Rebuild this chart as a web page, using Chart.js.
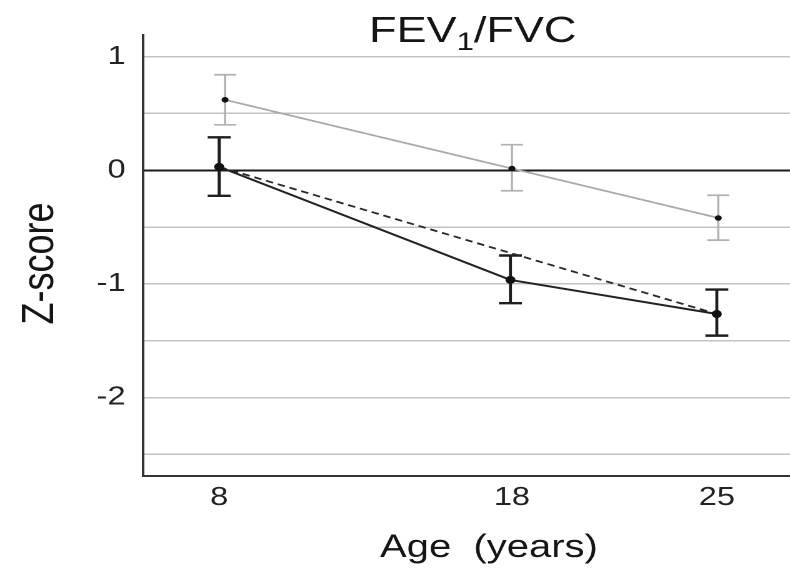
<!DOCTYPE html>
<html>
<head>
<meta charset="utf-8">
<script src="https://cdn.jsdelivr.net/npm/chart.js@4"></script>
<style>
  html, body { margin: 0; padding: 0; background: #fff; overflow: hidden; }
  #wrap { width: 632px; height: 569px; transform: scaleX(1.25); transform-origin: 0 0; }
</style>
</head>
<body>
<div id="wrap"><canvas id="c" width="632" height="569"></canvas></div>
<script>
// ---- data ----
const ageTicks = [8, 18, 25];

const grayX = [8.2, 18, 25.05];
const grayY = [0.62, 0.015, -0.42];
const grayUpper = [0.84, 0.225, -0.22];
const grayLower = [0.40, -0.18, -0.615];

const blackX = [8, 17.95, 25];
const blackY = [0.03, -0.965, -1.265];
const blackUpper = [0.29, -0.75, -1.05];
const blackLower = [-0.225, -1.17, -1.455];

const grayTrendX = [8.2, 25.05];
const grayTrendY = [0.62, -0.42];
const blackTrendX = [8, 25];
const blackTrendY = [0.03, -1.265];

const titleMain = 'FEV';
const titleSub = '1';
const titleRest = '/FVC';
const xTitle = 'Age  (years)';
const yTitle = 'Z-score';

const FONT = '"Liberation Sans", Arial, Helvetica, sans-serif';

const pts = (xs, ys) => xs.map((x, i) => ({ x: x, y: ys[i] }));

const errorBars = {
  id: 'errorBars',
  beforeDatasetsDraw(chart) {
    const { ctx, scales: { x, y } } = chart;
    chart.data.datasets.forEach((ds) => {
      if (!ds.errUp) return;
      ctx.save();
      ctx.strokeStyle = ds.errColor;
      ctx.lineWidth = ds.errWidth;
      ds.data.forEach((p, i) => {
        const px = x.getPixelForValue(p.x);
        const pu = y.getPixelForValue(ds.errUp[i]);
        const pl = y.getPixelForValue(ds.errLow[i]);
        ctx.beginPath();
        ctx.moveTo(px, pu); ctx.lineTo(px, pl);
        ctx.moveTo(px - ds.capHalf, pu); ctx.lineTo(px + ds.capHalf, pu);
        ctx.moveTo(px - ds.capHalf, pl); ctx.lineTo(px + ds.capHalf, pl);
        ctx.stroke();
      });
      ctx.restore();
    });
  }
};

const texts = {
  id: 'texts',
  afterDraw(chart) {
    const { ctx, chartArea } = chart;
    ctx.save();
    ctx.fillStyle = '#151515';
    const big = '36px ' + FONT, small = '25px ' + FONT;
    ctx.font = big;
    const w1 = ctx.measureText(titleMain).width;
    const w3 = ctx.measureText(titleRest).width;
    ctx.font = small;
    const w2 = ctx.measureText(titleSub).width;
    const cx = (chartArea.left + chartArea.right) / 2 + 5;
    let sx = cx - (w1 + w2 + w3) / 2;
    ctx.textBaseline = 'alphabetic';
    ctx.textAlign = 'left';
    ctx.font = big; ctx.fillText(titleMain, sx, 42);
    ctx.font = small; ctx.fillText(titleSub, sx + w1, 50);
    ctx.font = big; ctx.fillText(titleRest, sx + w1 + w2, 42);
    ctx.font = '32px ' + FONT;
    ctx.textAlign = 'center';
    ctx.fillText(xTitle, (chartArea.left + chartArea.right) / 2 + 18, 557);
    ctx.translate(42.4, (chartArea.top + chartArea.bottom) / 2 + 8);
    ctx.rotate(-Math.PI / 2);
    ctx.font = '36px ' + FONT;
    ctx.fillText(yTitle, 0, 0);
    ctx.restore();
  }
};

new Chart(document.getElementById('c'), {
  type: 'line',
  data: {
    datasets: [
      { data: pts(grayTrendX, grayTrendY), borderColor: '#b8b8b8', borderWidth: 1.6, borderDash: [6, 4], pointRadius: 0, order: 4 },
      { data: pts(grayX, grayY), borderColor: '#a9a9a9', borderWidth: 1.7, pointRadius: 2.8,
        pointBackgroundColor: '#111', pointBorderColor: '#111', pointBorderWidth: 0, order: 3,
        errUp: grayUpper, errLow: grayLower, errColor: '#b0b0b0', errWidth: 1.7, capHalf: 8.8 },
      { data: pts(blackTrendX, blackTrendY), borderColor: '#2a2a2a', borderWidth: 1.8, borderDash: [6, 4], pointRadius: 0, order: 2 },
      { data: pts(blackX, blackY), borderColor: '#222', borderWidth: 2, pointRadius: 4,
        pointBackgroundColor: '#111', pointBorderColor: '#111', pointBorderWidth: 0, order: 1,
        errUp: blackUpper, errLow: blackLower, errColor: '#1e1e1e', errWidth: 2.4, capHalf: 9.2 }
    ]
  },
  options: {
    responsive: false,
    animation: false,
    devicePixelRatio: 2,
    layout: { autoPadding: false, padding: { top: 35, left: 0, right: 0, bottom: 0 } },
    plugins: { legend: { display: false }, tooltip: { enabled: false }, title: { display: false } },
    scales: {
      x: {
        type: 'linear',
        min: 5.397, max: 27.5,
        afterBuildTicks: (s) => { s.ticks = ageTicks.map(v => ({ value: v })); },
        afterFit: (s) => { s.height = 93; s.paddingLeft = 0; s.paddingRight = 0; },
        grid: { display: false, drawTicks: false },
        border: { display: true, color: '#333', width: 2 },
        ticks: { font: { family: FONT, size: 26 }, color: '#222', padding: 6, maxRotation: 0, autoSkip: false }
      },
      y: {
        type: 'linear',
        min: -2.69, max: 1.19,
        afterFit: (s) => { s.width = 114.4; s.paddingTop = 0; s.paddingBottom = 0; },
        grid: {
          drawTicks: false,
          color: (c) => (c.tick && Math.abs(c.tick.value) < 1e-9) ? '#1a1a1a' : '#c2c2c2',
          lineWidth: (c) => (c.tick && Math.abs(c.tick.value) < 1e-9) ? 2 : 1.5
        },
        border: { display: true, color: '#333', width: 2 },
        ticks: {
          stepSize: 0.5,
          includeBounds: false,
          font: { family: FONT, size: 26 }, color: '#222', padding: 14,
          callback: (v) => Math.abs(v - Math.round(v)) < 1e-9 ? String(Math.round(v)) : ''
        }
      }
    }
  },
  plugins: [errorBars, texts]
});
</script>
</body>
</html>
